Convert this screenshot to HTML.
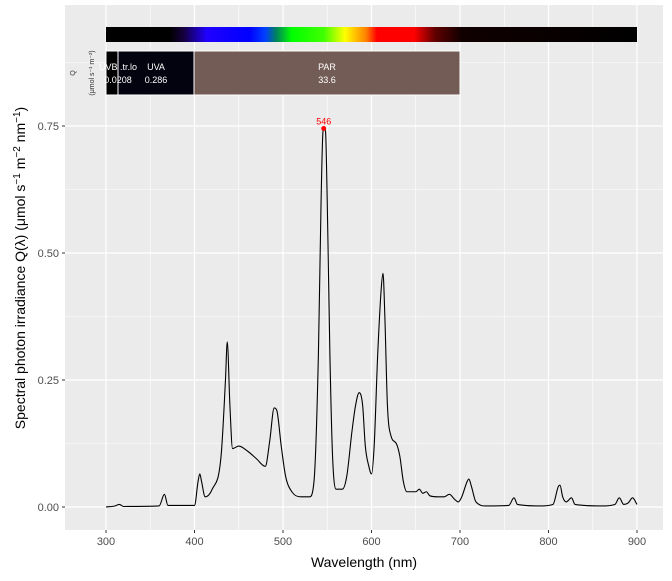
<!DOCTYPE html>
<html><head><meta charset="utf-8"><style>
body{margin:0;background:#fff;font-family:"Liberation Sans",sans-serif}
</style></head><body>
<svg id="c" width="672" height="576" xmlns="http://www.w3.org/2000/svg" font-family="Liberation Sans, sans-serif">
<defs>
<linearGradient id="spec" x1="0" x2="1" y1="0" y2="0">
<stop offset="0" stop-color="#000"/>
<stop offset="0.12" stop-color="#000"/>
<stop offset="0.145" stop-color="#14003a"/>
<stop offset="0.19" stop-color="#2000ff"/>
<stop offset="0.27" stop-color="#0000ff"/>
<stop offset="0.3" stop-color="#0040ff"/>
<stop offset="0.32" stop-color="#008060"/>
<stop offset="0.35" stop-color="#00ff00"/>
<stop offset="0.41" stop-color="#40ff00"/>
<stop offset="0.45" stop-color="#ffff00"/>
<stop offset="0.49" stop-color="#ff8000"/>
<stop offset="0.51" stop-color="#ff0000"/>
<stop offset="0.58" stop-color="#ff0000"/>
<stop offset="0.62" stop-color="#600000"/>
<stop offset="0.67" stop-color="#100000"/>
<stop offset="1" stop-color="#000"/>
</linearGradient>
</defs>
<rect x="65" y="5" width="598" height="525" fill="#ebebeb"/>
<g id="grid"></g>
<rect x="106" y="27" width="531" height="15" fill="url(#spec)"/>
<rect x="106" y="51" width="12" height="44" fill="#000" stroke="#fff" stroke-width="1"/>
<rect x="118" y="51" width="76" height="44" fill="#03030f" stroke="#fff" stroke-width="1"/>
<rect x="194" y="51" width="266" height="44" fill="#735c55" stroke="#fff" stroke-width="1"/>
<g fill="#fff" font-size="9" text-anchor="middle">
<text x="118" y="70">UVB .tr.lo</text>
<text x="118" y="83">0.0208</text>
<text x="156" y="70">UVA</text>
<text x="156" y="83">0.286</text>
<text x="327" y="70">PAR</text>
<text x="327" y="83">33.6</text>
</g>
<text transform="translate(75,73) rotate(-90)" font-size="7" fill="#333" text-anchor="middle">Q</text>
<text transform="translate(94,73) rotate(-90)" font-size="7" fill="#333" text-anchor="middle">(μmol s⁻¹ m⁻²)</text>
<path id="line" fill="none" stroke="#000" stroke-width="1.1"/>
<g id="peak"></g>
<g id="axes"></g>
<text x="364" y="567" font-size="14" fill="#000" text-anchor="middle">Wavelength (nm)</text>
<text transform="translate(25,268) rotate(-90)" font-size="14" fill="#000" text-anchor="middle">Spectral  photon  irradiance  Q(λ)  (μmol s<tspan baseline-shift="super" font-size="10">−1</tspan> m<tspan baseline-shift="super" font-size="10">−2</tspan> nm<tspan baseline-shift="super" font-size="10">−1</tspan>)</text>
</svg>
<script>
const wavelengths=[300,310,315,320,360,366,370,400,404,406,408,412,420,430,435,437,440,443,450,460,470,480,485,490,493,498,503,510,520,530,535,540,543,545,546,548,550,553,556,560,567,572,578,582,586,590,593,597,600,603,607,611,613,615,618,622,628,632,636,640,650,654,658,662,666,675,682,688,694,698,702,708,710,713,718,730,755,761,765,790,805,811,813,816,820,826,830,860,875,880,885,890,895,900];
const irradiance=[0,0.002,0.005,0.001,0.002,0.025,0.003,0.003,0.05,0.065,0.05,0.02,0.035,0.1,0.25,0.325,0.2,0.115,0.12,0.11,0.095,0.08,0.13,0.195,0.19,0.12,0.06,0.03,0.02,0.02,0.05,0.3,0.6,0.735,0.745,0.74,0.6,0.3,0.1,0.035,0.035,0.06,0.15,0.2,0.225,0.2,0.12,0.08,0.065,0.12,0.3,0.43,0.46,0.38,0.2,0.14,0.125,0.1,0.05,0.03,0.03,0.035,0.027,0.03,0.022,0.02,0.02,0.025,0.015,0.01,0.02,0.05,0.055,0.04,0.01,0.002,0.003,0.018,0.005,0.002,0.005,0.04,0.043,0.02,0.01,0.018,0.005,0.002,0.005,0.018,0.005,0.008,0.018,0.005];
const xTicks=[300,400,500,600,700,800,900];
const yTicks=[0,0.25,0.5,0.75];
const yTickLabels=["0.00","0.25","0.50","0.75"];
const peakWl=546, peakVal=0.745;
const xs=w=>106+(w-300)*0.885;
const ys=v=>507-v*508;
const NS="http://www.w3.org/2000/svg";
const grid=document.getElementById('grid'), axes=document.getElementById('axes');
function ln(p,x1,y1,x2,y2,sw,col){const l=document.createElementNS(NS,'line');l.setAttribute('x1',x1);l.setAttribute('y1',y1);l.setAttribute('x2',x2);l.setAttribute('y2',y2);l.setAttribute('stroke',col);l.setAttribute('stroke-width',sw);p.appendChild(l);return l;}
for(let i=0;i<xTicks.length;i++){
  if(i<xTicks.length-1){const m=ln(grid,xs(xTicks[i]+50),5,xs(xTicks[i]+50),530,0.6,'#fff');
  
  }
  const g=ln(grid,xs(xTicks[i]),5,xs(xTicks[i]),530,1.2,'#fff');
  
  
  const t=ln(axes,xs(xTicks[i]),530,xs(xTicks[i]),533,1,'#333');
  
  
  const tx=document.createElementNS(NS,'text');tx.setAttribute('x',xs(xTicks[i]));tx.setAttribute('y',545);tx.setAttribute('font-size','11');tx.setAttribute('fill','#4d4d4d');tx.setAttribute('text-anchor','middle');tx.textContent=xTicks[i];
  
  
  axes.appendChild(tx);
}
for(const v of [-0.125,0.125,0.375,0.625,0.875]){const m=ln(grid,65,ys(v),663,ys(v),0.6,'#fff');
  
  }
for(let i=0;i<yTicks.length;i++){
  const g=ln(grid,65,ys(yTicks[i]),663,ys(yTicks[i]),1.2,'#fff');
  
  
  const t=ln(axes,62,ys(yTicks[i]),65,ys(yTicks[i]),1,'#333');
  
  
  const tx=document.createElementNS(NS,'text');tx.setAttribute('x',59);tx.setAttribute('y',ys(yTicks[i])+4);tx.setAttribute('font-size','11');tx.setAttribute('fill','#4d4d4d');tx.setAttribute('text-anchor','end');tx.textContent=yTickLabels[i];
  
  
  axes.appendChild(tx);
}
// monotone cubic path
(function(){
  const X=wavelengths.map(xs),Y=irradiance.map(ys),n=X.length;
  const d=[],m=new Array(n);
  for(let i=0;i<n-1;i++)d.push((Y[i+1]-Y[i])/(X[i+1]-X[i]));
  m[0]=d[0];m[n-1]=d[n-2];
  for(let i=1;i<n-1;i++){m[i]=(d[i-1]*d[i]<=0)?0:(d[i-1]+d[i])/2;}
  for(let i=0;i<n-1;i++){if(d[i]===0){m[i]=0;m[i+1]=0;continue;}const a=m[i]/d[i],b=m[i+1]/d[i],s=a*a+b*b;if(s>9){const t=3/Math.sqrt(s);m[i]=t*a*d[i];m[i+1]=t*b*d[i];}}
  let p='M'+X[0].toFixed(1)+','+Y[0].toFixed(1);
  for(let i=0;i<n-1;i++){const h=(X[i+1]-X[i])/3;p+='C'+(X[i]+h).toFixed(2)+','+(Y[i]+m[i]*h).toFixed(2)+' '+(X[i+1]-h).toFixed(2)+','+(Y[i+1]-m[i+1]*h).toFixed(2)+' '+X[i+1].toFixed(2)+','+Y[i+1].toFixed(2);}
  document.getElementById('line').setAttribute('d',p);
})();
const pk=document.getElementById('peak');
const c=document.createElementNS(NS,'circle');c.setAttribute('cx',xs(peakWl));c.setAttribute('cy',ys(peakVal));c.setAttribute('r',2.5);c.setAttribute('fill','#f00');


pk.appendChild(c);
const pt=document.createElementNS(NS,'text');pt.setAttribute('x',xs(peakWl));pt.setAttribute('y',ys(peakVal)-4);pt.setAttribute('font-size','9');pt.setAttribute('fill','#f00');pt.setAttribute('text-anchor','middle');pt.textContent=peakWl;


pk.appendChild(pt);
</script>
</body></html>
